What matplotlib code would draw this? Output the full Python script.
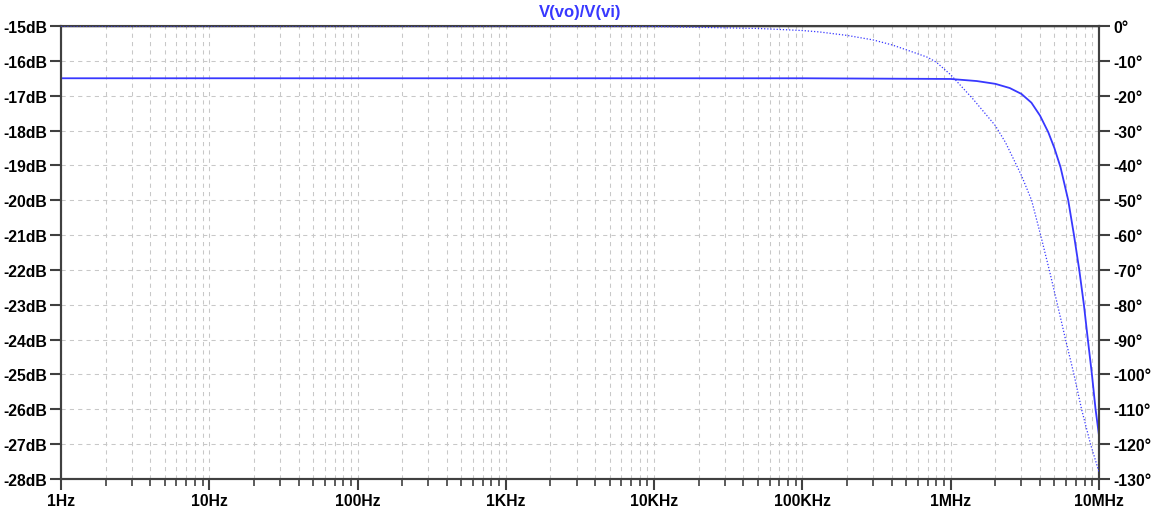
import matplotlib
matplotlib.use('Agg')
import matplotlib.pyplot as plt
from matplotlib.ticker import FixedLocator, LogLocator, NullFormatter

plt.rcParams['font.family'] = ['Liberation Sans', 'DejaVu Sans']
plt.rcParams['font.weight'] = 'bold'

# Donnees
freq_mag = [1, 1e3, 1e5, 1e6, 1.5e6, 2e6, 2.5e6, 3e6, 3.5e6, 4e6, 4.55e6, 5e6,
            5.5e6, 6.2e6, 6.78e6, 7.36e6, 7.91e6, 8.41e6, 8.96e6, 9.48e6, 1e7]
mag_db = [-16.5, -16.5, -16.5, -16.52, -16.58, -16.66, -16.78, -16.95, -17.2, -17.57,
          -18.05, -18.5, -19.05, -20.0, -21.0, -22.0, -23.0, -24.0, -25.0, -26.0, -26.75]

freq_phase = [1, 1e3, 1e4, 5e4, 1e5, 1.3e5, 2e5, 3e5, 4e5, 5e5, 7e5, 8e5, 1e6,
              1.41e6, 2e6, 2.34e6, 3e6, 3.51e6, 4.04e6, 4.62e6, 5.25e6, 5.95e6,
              6.78e6, 7.63e6, 8.77e6, 1e7]
phase_deg = [0, 0, -0.14, -0.7, -1.3, -1.7, -2.7, -4.0, -5.4, -6.8, -9, -10.4, -14.0,
             -20.9, -28.6, -33.4, -42.9, -50, -60, -70, -80, -90,
             -100, -110, -120, -128]

xticks = [1, 10, 100, 1e3, 1e4, 1e5, 1e6, 1e7]
xlabels = ['1Hz', '10Hz', '100Hz', '1KHz', '10KHz', '100KHz', '1MHz', '10MHz']
db_ticks = list(range(-28, -14))
deg_ticks = list(range(-130, 1, 10))

bleu = '#3838ff'
axe_col = '#404040'

fig = plt.figure(figsize=(11.58, 5.10), dpi=100)
ax = fig.add_axes([61 / 1158, 30 / 510, 1038 / 1158, 453 / 510])
ax2 = ax.twinx()

# ------ Magnitude ------
ax.plot(freq_mag, mag_db, color=bleu, lw=1.3, zorder=3)
ax.set_xscale('log')
ax.set_xlim(1, 1e7)
ax.set_ylim(-28, -15)
ax.set_xticks(xticks)
ax.set_xticklabels(xlabels)
ax.xaxis.set_minor_locator(LogLocator(base=10, subs=range(2, 10), numticks=20))
ax.xaxis.set_minor_formatter(NullFormatter())
ax.set_yticks(db_ticks)
ax.set_yticklabels(['%ddB' % v for v in db_ticks])

ax.grid(True, which='both', axis='x', color='#c8c8c8', lw=0.75, ls=(0, (4, 4)))
ax.grid(True, which='major', axis='y', color='#c8c8c8', lw=0.75, ls=(0, (4, 4)))

# ------ Phase ------
ax2.plot(freq_phase, phase_deg, color=bleu, lw=0.9, ls=(0, (1, 1.5)), zorder=3)
ax2.set_ylim(-130, 0)
ax2.yaxis.set_major_locator(FixedLocator(deg_ticks))
ax2.set_yticklabels(['%d°' % v for v in deg_ticks])

for a in (ax, ax2):
    for s in a.spines.values():
        s.set_color(axe_col)
        s.set_linewidth(1.5)
    a.tick_params(which='major', length=8, width=1.5, color=axe_col,
                  labelsize=11.3, pad=2)
    a.tick_params(which='minor', length=5, width=1.2, color=axe_col)
for lab in ax.get_xticklabels() + ax.get_yticklabels() + ax2.get_yticklabels():
    lab.set_fontweight('bold')
ax.spines['top'].set_color('black')
ax.spines['top'].set_linewidth(1.0)

# Titre
fig.text(580 / 1158, 1 - 13 / 510, 'V(vo)/V(vi)', color=bleu, fontsize=12,
         fontweight='bold', ha='center', va='center')

plt.savefig('out.png', dpi=100)
